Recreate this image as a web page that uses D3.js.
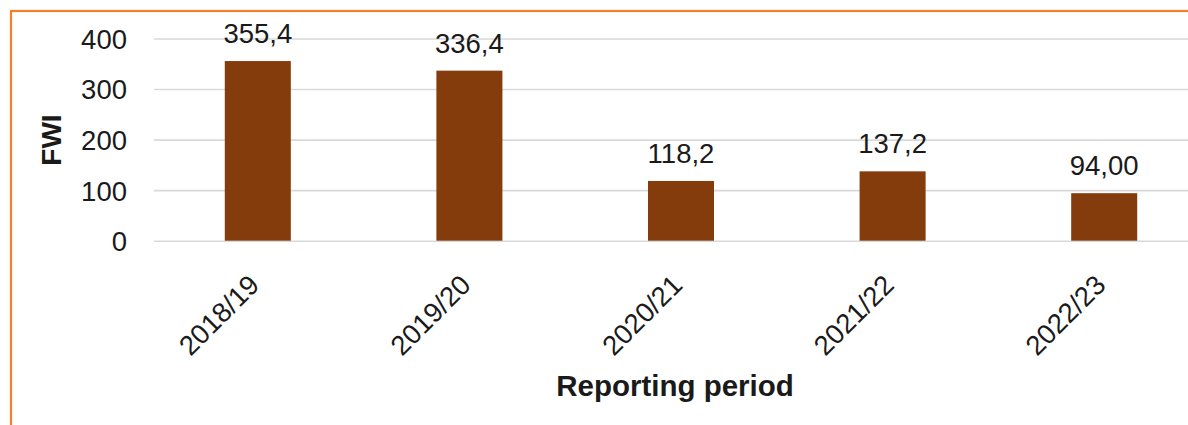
<!DOCTYPE html>
<html>
<head>
<meta charset="utf-8">
<script src="https://cdn.jsdelivr.net/npm/d3@7"></script>
<style>
  html, body { margin: 0; padding: 0; background: #ffffff; }
  svg { display: block; font-family: "Liberation Sans", Arial, sans-serif; }
</style>
</head>
<body>
<svg id="chart" width="1188" height="425"></svg>
<script>
// Reporting periods and FWI values
const periods = ["2018/19", "2019/20", "2020/21", "2021/22", "2022/23"];
const fwi = [355.4, 336.4, 118.2, 137.2, 94.0];
const fwiLabels = ["355,4", "336,4", "118,2", "137,2", "94,00"];
const yTicks = [0, 100, 200, 300, 400];

const svg = d3.select("#chart");
const W = 1188, H = 425;
const FONT = "'Liberation Sans', Arial, sans-serif";

svg.append("rect").attr("width", W).attr("height", H).attr("fill", "#ffffff");

// orange frame (runs past the right and bottom edges)
svg.append("rect")
  .attr("x", 11).attr("y", 11)
  .attr("width", W + 20).attr("height", H + 20)
  .attr("fill", "none")
  .attr("stroke", "#f77f2b")
  .attr("stroke-width", 2.2);

const x = d3.scaleBand()
  .domain(periods)
  .range([152, 1210])
  .paddingInner(0.688)
  .paddingOuter(0.344);

const y = d3.scaleLinear()
  .domain([0, 400])
  .range([240.7, 38.5]);

// gridlines
const grid = svg.append("g")
  .attr("transform", "translate(154,0)")
  .call(d3.axisLeft(y).tickValues(yTicks).tickSize(-(W + 10 - 154)).tickFormat(""));
grid.select(".domain").remove();
grid.selectAll("line").attr("stroke", "#d9d9d9").attr("stroke-width", 1.6);

// y tick labels
const yAxis = svg.append("g")
  .attr("transform", "translate(127,0)")
  .call(d3.axisLeft(y).tickValues(yTicks).tickSize(0).tickPadding(0).tickFormat(d3.format("d")));
yAxis.select(".domain").remove();
yAxis.selectAll("text")
  .attr("font-family", FONT)
  .attr("font-size", 27.5)
  .attr("fill", "#1a1a1a")
  .attr("dy", "0.36em");

// bars
svg.append("g").selectAll("rect")
  .data(periods)
  .join("rect")
  .attr("x", d => x(d))
  .attr("width", x.bandwidth())
  .attr("y", (d, i) => y(fwi[i]))
  .attr("height", (d, i) => y(0) - y(fwi[i]))
  .attr("fill", "#843c0c");

// value labels
svg.append("g").selectAll("text")
  .data(periods)
  .join("text")
  .attr("x", d => x(d) + x.bandwidth() / 2)
  .attr("y", (d, i) => y(fwi[i]) - 18)
  .attr("text-anchor", "middle")
  .attr("font-size", 27.5)
  .attr("fill", "#1a1a1a")
  .text((d, i) => fwiLabels[i]);

// x tick labels, rotated
const xAxis = svg.append("g")
  .attr("transform", `translate(0,${y(0)})`)
  .call(d3.axisBottom(x).tickSize(0).tickPadding(0));
xAxis.select(".domain").remove();
xAxis.selectAll("text")
  .attr("font-family", FONT)
  .attr("font-size", 27.5)
  .attr("fill", "#1a1a1a")
  .attr("text-anchor", "end")
  .attr("y", 0)
  .attr("dy", 0)
  .attr("transform", "translate(3,46) rotate(-45)");

// axis titles
svg.append("text")
  .attr("x", 675).attr("y", 396)
  .attr("text-anchor", "middle")
  .attr("font-size", 29.5)
  .attr("font-weight", "bold")
  .attr("fill", "#1a1a1a")
  .text("Reporting period");

svg.append("text")
  .attr("transform", "translate(61,140) rotate(-90)")
  .attr("text-anchor", "middle")
  .attr("font-size", 28)
  .attr("font-weight", "bold")
  .attr("fill", "#1a1a1a")
  .text("FWI");
</script>
</body>
</html>
